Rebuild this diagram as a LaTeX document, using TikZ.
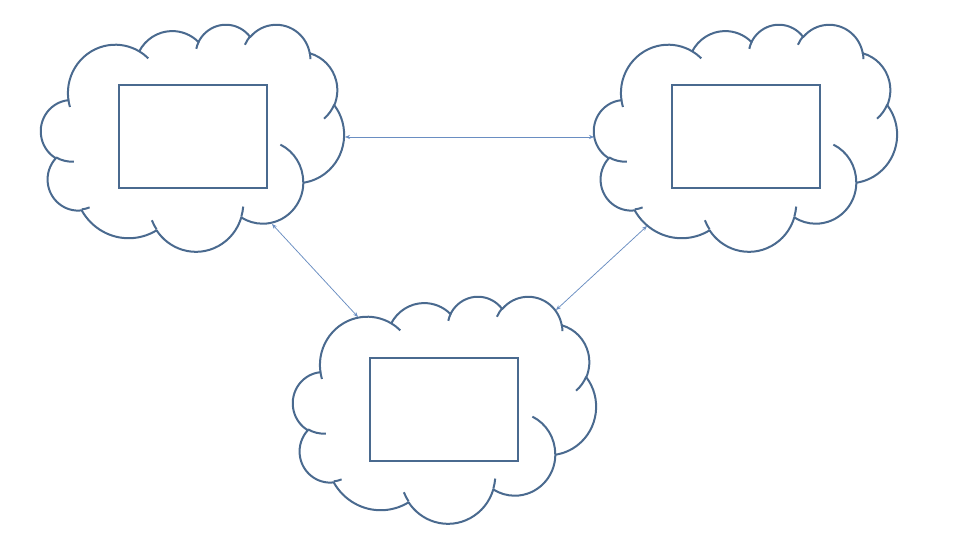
\documentclass[tikz,border=0pt]{standalone}
\usetikzlibrary{arrows.meta}
\definecolor{cloudline}{HTML}{4A6A8F}
\definecolor{arrowline}{HTML}{6A8EC2}
% convert a visual (DrawingML) arc angle pair into parametric start/delta
\newcommand\visarc[5]{%
  \pgfmathsetmacro\zva{atan2((#2)*sin(#4),(#3)*cos(#4))}%
  \pgfmathsetmacro\zvb{atan2((#2)*sin((#4)+(#5)),(#3)*cos((#4)+(#5)))}%
  \pgfmathsetmacro\zvd{\zvb-\zva}%
  \pgfmathsetmacro\zvd{((#5)>0)*(\zvd<0)*360-((#5)<0)*(\zvd>0)*360+\zvd}%
  \expandafter\xdef\csname #1s\endcsname{\zva}%
  \expandafter\xdef\csname #1d\endcsname{\zvd}%
}
\visarc{zca}{6.753}{9.190}{-190.48748}{123.78053}
\visarc{zcb}{5.333}{7.267}{-144.10238}{89.94523}
\visarc{zcc}{4.365}{5.945}{-145.80792}{99.72302}
\visarc{zcd}{4.857}{6.595}{-130.98607}{117.24173}
\visarc{zce}{5.333}{7.273}{-78.70888}{109.02692}
\visarc{zcf}{6.775}{9.220}{-46.26725}{130.269}
\visarc{zcg}{5.785}{7.867}{0.62502}{114.03333}
\visarc{zch}{6.752}{9.215}{22.4516}{115.17255}
\visarc{zci}{7.720}{10.543}{66.24263}{75.71102}
\visarc{zcj}{4.360}{5.918}{-274.94208}{146.73557}
\visarc{zck}{4.345}{5.945}{-246.8285}{152.51885}
\visarc{zia}{4.345}{5.945}{86.742}{26.430}
\visarc{zib}{4.360}{5.918}{73.610}{11.447}
\visarc{zic}{6.752}{9.215}{137.624}{14.081}
\visarc{zid}{6.752}{9.215}{6.453}{15.998}
\visarc{zie}{5.785}{7.867}{-70.292}{70.917}
\visarc{zif}{5.333}{7.273}{30.318}{27.752}
\visarc{zig}{4.857}{6.595}{-13.744}{14.859}
\visarc{zih}{4.857}{6.595}{-149.181}{18.195}
\visarc{zii}{4.365}{5.945}{-163.494}{17.686}
\visarc{zij}{6.753}{9.190}{-66.707}{12.319}
\visarc{zik}{6.753}{9.190}{157.654}{11.858}
\tikzset{
  cloudstyle/.style={draw=cloudline, line width=2pt, line join=round},
  framebox/.style={draw=cloudline, line width=2pt, inner sep=0pt,
    minimum width=148pt, minimum height=103pt},
  conn/.style={draw=arrowline, line width=0.75pt,
    {Stealth[length=5pt,width=4pt]}-{Stealth[length=5pt,width=4pt]}}
}
\newcommand\drawcloud[2]{%
  \begin{scope}[shift={(#1,#2)}, x=7.014pt, y=-5.2546pt]
    \draw[cloudstyle, fill=white] (3.9,14.37)
      arc[start angle=\zcas, delta angle=\zcad, x radius=6.753, y radius=9.190]
      arc[start angle=\zcbs, delta angle=\zcbd, x radius=5.333, y radius=7.267]
      arc[start angle=\zccs, delta angle=\zccd, x radius=4.365, y radius=5.945]
      arc[start angle=\zcds, delta angle=\zcdd, x radius=4.857, y radius=6.595]
      arc[start angle=\zces, delta angle=\zced, x radius=5.333, y radius=7.273]
      arc[start angle=\zcfs, delta angle=\zcfd, x radius=6.775, y radius=9.220]
      arc[start angle=\zcgs, delta angle=\zcgd, x radius=5.785, y radius=7.867]
      arc[start angle=\zchs, delta angle=\zchd, x radius=6.752, y radius=9.215]
      arc[start angle=\zcis, delta angle=\zcid, x radius=7.720, y radius=10.543]
      arc[start angle=\zcjs, delta angle=\zcjd, x radius=4.360, y radius=5.918]
      arc[start angle=\zcks, delta angle=\zckd, x radius=4.345, y radius=5.945]
      -- cycle;
    \draw[cloudstyle]
      (4.693,26.177) arc[start angle=\zias, delta angle=\ziad, x radius=4.345, y radius=5.945]
      (6.928,34.899) arc[start angle=\zibs, delta angle=\zibd, x radius=4.360, y radius=5.918]
      (16.478,39.090) arc[start angle=\zics, delta angle=\zicd, x radius=6.752, y radius=9.215]
      (28.827,34.751) arc[start angle=\zids, delta angle=\zidd, x radius=6.752, y radius=9.215]
      (34.129,22.954) arc[start angle=\zies, delta angle=\zied, x radius=5.785, y radius=7.867]
      (41.798,15.354) arc[start angle=\zifs, delta angle=\zifd, x radius=5.333, y radius=7.273]
      (38.324,5.426) arc[start angle=\zigs, delta angle=\zigd, x radius=4.857, y radius=6.595]
      (29.078,3.952) arc[start angle=\zihs, delta angle=\zihd, x radius=4.857, y radius=6.595]
      (22.141,4.720) arc[start angle=\ziis, delta angle=\ziid, x radius=4.365, y radius=5.945]
      (14.000,5.192) arc[start angle=\zijs, delta angle=\zijd, x radius=6.753, y radius=9.190]
      (4.127,15.789) arc[start angle=\ziks, delta angle=\zikd, x radius=6.753, y radius=9.190];
  \end{scope}%
}
\begin{document}
\begin{tikzpicture}[x=1pt, y=-1pt]
  \fill[white] (0,0) rectangle (968,548);
  \useasboundingbox (0,0) rectangle (968,548);
  % clouds
  \drawcloud{41}{24}
  \drawcloud{594}{24}
  \drawcloud{293}{296}
  % inner frames
  \node[framebox] (leftbox) at (192.85,136.2) {};
  \node[framebox] (rightbox) at (746,136.35) {};
  \node[framebox] (bottombox) at (443.85,409.5) {};
  % connector end points on the cloud outlines
  \coordinate (lc-e) at (345,137);
  \coordinate (rc-w) at (594,137);
  \coordinate (lc-s) at (272,224);
  \coordinate (bc-nw) at (358,317);
  \coordinate (rc-sw) at (647,226);
  \coordinate (bc-ne) at (556,310);
  \draw[conn] (lc-e) -- (rc-w);
  \draw[conn] (lc-s) -- (bc-nw);
  \draw[conn] (rc-sw) -- (bc-ne);
\end{tikzpicture}
\end{document}
